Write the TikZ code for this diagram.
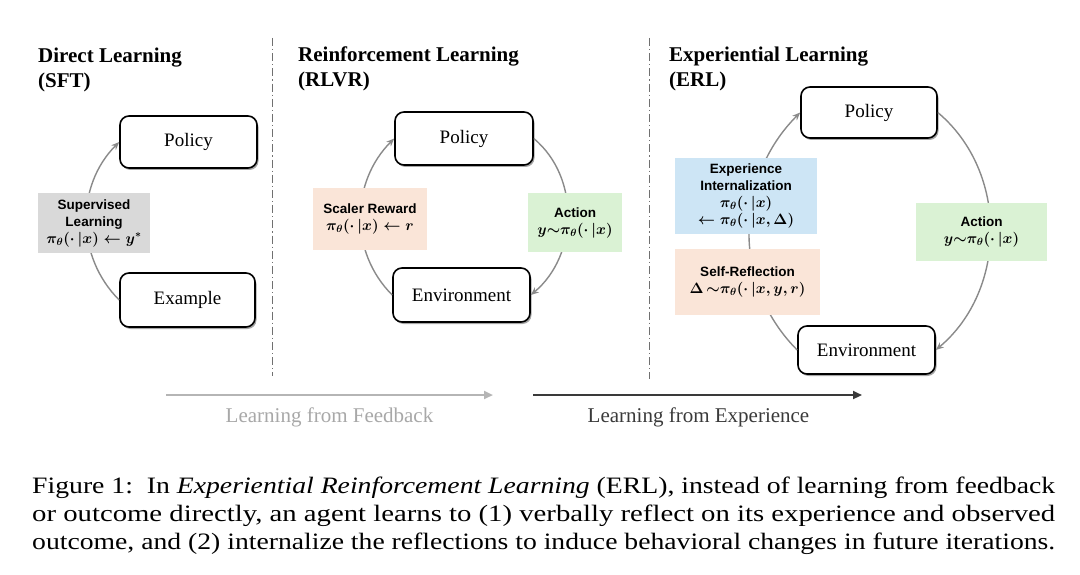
\RequirePackage{fix-cm}
\documentclass[tikz,border=0pt]{standalone}
\usepackage{graphicx}
\usepackage{fontspec}
\setmainfont{Liberation Serif}
\setsansfont{Liberation Sans}
\usetikzlibrary{arrows.meta,shadows}
\definecolor{arcgray}{HTML}{8A8A8A}
\definecolor{supgray}{HTML}{D9D9D9}
\definecolor{peach}{HTML}{FAE5D8}
\definecolor{mint}{HTML}{DAF2D4}
\definecolor{sky}{HTML}{CDE5F5}
\definecolor{sepgray}{HTML}{707070}
\definecolor{fbgray}{HTML}{A8A8A8}
\definecolor{expdark}{HTML}{3A3A3A}
\newcommand\capline[1]{\resizebox{1023pt}{\height}{#1}}
\newcommand\mth[1]{{\fontsize{15}{17}\selectfont\boldmath$#1$}}
\tikzset{
  x=1pt, y=1pt,
  stage/.style={draw=black, line width=1.6pt, rounded corners=9pt, fill=white,
    drop shadow={shadow xshift=1.5pt, shadow yshift=-2pt, opacity=0.35, fill=black},
    font=\fontsize{19}{22}\selectfont, inner sep=0pt},
  lab/.style={inner sep=0pt, align=center, font=\sffamily\bfseries\fontsize{13.5}{17}\selectfont},
  loop/.style={draw=arcgray, line width=1.4pt, -{Stealth[length=8pt,width=6.5pt]}},
  ttl/.style={anchor=base west, inner sep=0pt, font=\bfseries\fontsize{21}{25}\selectfont},
  sep/.style={draw=sepgray, line width=1pt, dash pattern=on 8pt off 3pt on 1.2pt off 3pt},
  lower/.style={anchor=base, inner sep=0pt, font=\fontsize{21}{24}\selectfont},
  capt/.style={anchor=base west, inner sep=0pt, font=\fontsize{23.5}{28}\selectfont},
  timeline/.style={line width=2.6pt, -{Triangle[length=9pt,width=8pt]}},
}
\begin{document}
\begin{tikzpicture}
\useasboundingbox (0,0) rectangle (1080,-575);
\fill[white] (0,0) rectangle (1080,-575);

% titles
\node[ttl] (t1a) at (38,-63) {Direct Learning};
\node[ttl] (t1b) at (38,-88) {(SFT)};
\node[ttl] (t2a) at (298,-62) {Reinforcement Learning};
\node[ttl] (t2b) at (298,-87) {(RLVR)};
\node[ttl] (t3a) at (669,-62) {Experiential Learning};
\node[ttl] (t3b) at (669,-87) {(ERL)};

% separators
\draw[sep] (272,-38) -- (272,-376);
\draw[sep] (649,-38) -- (649,-379);

% SFT
\node[stage, minimum width=137pt, minimum height=52pt] (sftpol) at (188.5,-142) {Policy};
\node[stage, minimum width=135pt, minimum height=54pt] (sftex) at (187.5,-300) {Example};
\draw[loop] (sftex.west) to[out=135,in=225] (sftpol.west);
\node[lab, fill=supgray, minimum width=112pt, minimum height=60pt] (sup) at (94,-223)
  {Supervised\\Learning\\\mth{\pi_\theta(\cdot\,|x)\leftarrow y^{*}}};

% RLVR
\node[stage, minimum width=138pt, minimum height=53pt] (rlpol) at (464,-138.5) {Policy};
\node[stage, minimum width=137pt, minimum height=54pt] (rlenv) at (461.5,-295) {Environment};
\draw[loop] (rlenv.west) to[out=135,in=225] (rlpol.west);
\draw[loop] (rlpol.east) to[out=-40,in=40] (rlenv.east);
\node[lab, fill=peach, minimum width=114pt, minimum height=62pt] (rew) at (370,-219)
  {Scaler Reward\\\mth{\pi_\theta(\cdot\,|x)\leftarrow r}};
\node[lab, fill=mint, minimum width=94pt, minimum height=59pt] (rlact) at (575,-222.5)
  {Action\\\mth{y{\sim}\pi_\theta(\cdot\,|x)}};

% ERL
\node[stage, minimum width=136pt, minimum height=51pt] (erpol) at (869,-112.5) {Policy};
\node[stage, minimum width=137pt, minimum height=48pt] (erenv) at (866.5,-350) {Environment};
\draw[loop] (erenv.west) to[out=135,in=225] (erpol.west);
\draw[loop] (erpol.east) to[out=-40,in=40] (erenv.east);
\node[lab, fill=sky, minimum width=142pt, minimum height=76pt] (int) at (746,-196)
  {Experience\\Internalization\\\mth{\pi_\theta(\cdot\,|x)}\\\mth{\leftarrow\pi_\theta(\cdot\,|x,\Delta)}};
\node[lab, fill=peach, minimum width=145pt, minimum height=66pt] (refl) at (747.5,-282)
  {Self-Reflection\\\mth{\Delta\,{\sim}\pi_\theta(\cdot\,|x,y,r)}};
\node[lab, fill=mint, minimum width=131pt, minimum height=58pt] (eract) at (981.5,-232)
  {Action\\\mth{y{\sim}\pi_\theta(\cdot\,|x)}};

% bottom arrows
\coordinate (fbs) at (166,-395);
\coordinate (fbe) at (493,-395);
\coordinate (exs) at (533,-395);
\coordinate (exe) at (862,-395);
\draw[timeline, draw=fbgray!85] (fbs) -- (fbe);
\draw[timeline, draw=expdark] (exs) -- (exe);
\node[lower, text=fbgray] (fbl) at (329.5,-422) {Learning from Feedback};
\node[lower, text=expdark] (exl) at (698.5,-422) {Learning from Experience};

% caption
\node[capt] (c1) at (32,-493) {\capline{Figure 1:\ \ In \textit{Experiential Reinforcement Learning} (ERL), instead of learning from feedback}};
\node[capt] (c2) at (32,-521) {\capline{or outcome directly, an agent learns to (1) verbally reflect on its experience and observed}};
\node[capt] (c3) at (32,-549) {\capline{outcome, and (2) internalize the reflections to induce behavioral changes in future iterations.}};
\end{tikzpicture}
\end{document}
